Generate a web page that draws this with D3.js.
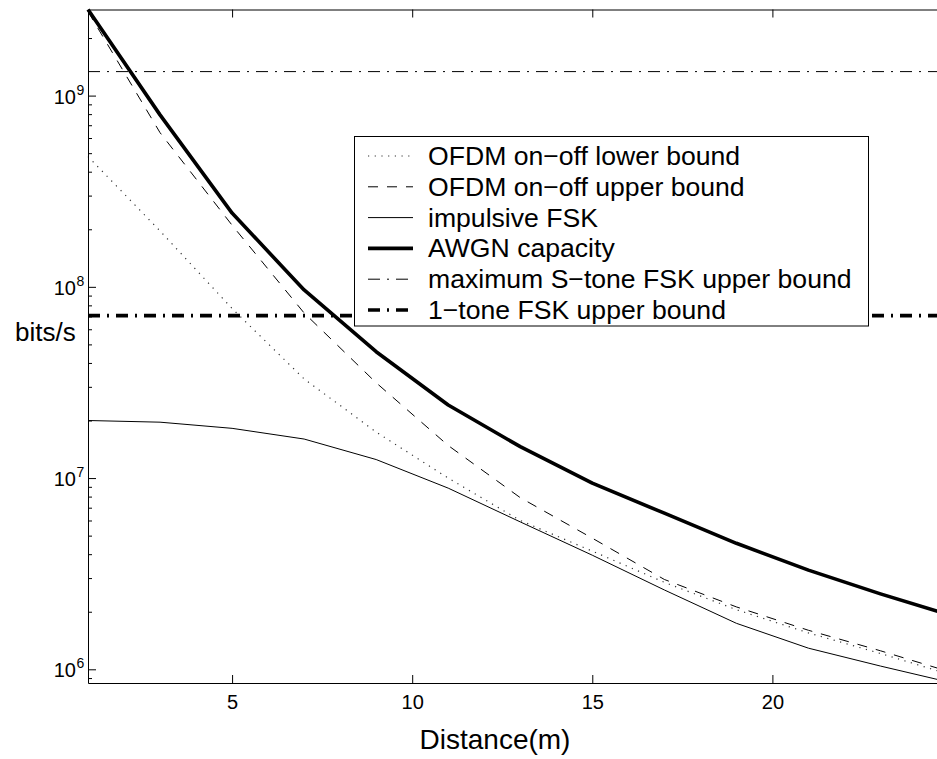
<!DOCTYPE html>
<html>
<head>
<meta charset="utf-8">
<script src="https://cdn.jsdelivr.net/npm/d3@7"></script>
<style>
  html, body { margin: 0; padding: 0; background: #fff; }
  svg { display: block; font-family: "Liberation Sans", Arial, Helvetica, sans-serif; }
</style>
</head>
<body>
<svg id="chart" width="937" height="759"></svg>
<script>
// ---- data ----
const distance   = [1, 3, 5, 7, 9, 11, 13, 15, 17, 19, 21, 23, 25];
const ofdmLower  = [4.8e8, 1.96e8, 7.7e7, 3.3e7, 1.74e7, 1.0e7, 6.0e6, 4.15e6, 2.85e6, 2.05e6, 1.55e6, 1.21e6, 9.3e5];
const ofdmUpper  = [2.75e9, 6.4e8, 2.1e8, 7.3e7, 3.15e7, 1.48e7, 7.9e6, 4.85e6, 2.95e6, 2.12e6, 1.6e6, 1.25e6, 9.6e5];
const impulsive  = [2.0e7, 1.96e7, 1.82e7, 1.6e7, 1.25e7, 8.86e6, 5.9e6, 3.95e6, 2.6e6, 1.74e6, 1.29e6, 1.04e6, 8.48e5];
const awgn       = [2.82e9, 7.93e8, 2.43e8, 9.63e7, 4.58e7, 2.41e7, 1.46e7, 9.4e6, 6.55e6, 4.56e6, 3.3e6, 2.48e6, 1.9e6];
const sToneBound = 1.335e9;   // maximum S-tone FSK upper bound (constant)
const oneToneBound = 7.07e7;  // 1-tone FSK upper bound (constant)

const legendLabels = [
  "OFDM on\u2212off lower bound",
  "OFDM on\u2212off upper bound",
  "impulsive FSK",
  "AWGN capacity",
  "maximum S\u2212tone FSK upper bound",
  "1\u2212tone FSK upper bound"
];
const xTickValues = [5, 10, 15, 20];
const yMajorExponents = [6, 7, 8, 9];
const xLabel = "Distance(m)";
const yLabel = "bits/s";

// ---- layout ----
const plot = { left: 88, right: 952.5, top: 9.5, bottom: 683 };
const svg = d3.select("#chart");

const allValues = [].concat(ofdmLower, ofdmUpper, impulsive, awgn, [sToneBound, oneToneBound]);
const x = d3.scaleLinear().domain(d3.extent(distance)).range([plot.left, plot.right]);
const y = d3.scaleLog().domain(d3.extent(allValues)).range([plot.bottom, plot.top]);

// series styles
const series = [
  { values: ofdmLower, width: 1.2, dash: "1.2,5.5", color: "#333" },
  { values: ofdmUpper, width: 1,   dash: "10,9",    color: "#000" },
  { values: impulsive, width: 1,   dash: null,      color: "#000" },
  { values: awgn,      width: 3.6, dash: null,      color: "#000" },
  { constant: sToneBound,   width: 1,   dash: "12,7,2,7", color: "#000" },
  { constant: oneToneBound, width: 3.6, dash: "12,7,2,7", color: "#000" }
];

const line = d3.line().x(d => x(d[0])).y(d => y(d[1]));

const gLines = svg.append("g");
series.forEach(s => {
  let pts;
  if (s.values) pts = distance.map((d, i) => [d, s.values[i]]);
  else pts = x.domain().map(d => [d, s.constant]);
  gLines.append("path")
    .attr("d", line(pts))
    .attr("fill", "none")
    .attr("stroke", s.color)
    .attr("stroke-width", s.width)
    .attr("stroke-dasharray", s.dash)
    .attr("stroke-linejoin", "round");
});

// ---- axes ----
const [yMin, yMax] = y.domain();
const minorTicks = [];
for (let e = Math.floor(Math.log10(yMin)); e <= Math.ceil(Math.log10(yMax)); e++) {
  for (let m = 2; m <= 9; m++) {
    const v = m * Math.pow(10, e);
    if (v >= yMin && v <= yMax) minorTicks.push(v);
  }
}
const majorTicks = yMajorExponents.map(e => Math.pow(10, e));

const axisStyle = g => {
  g.selectAll("path.domain").attr("stroke", "#000").attr("stroke-width", 1);
  g.selectAll(".tick line").attr("stroke", "#000").attr("stroke-width", 1);
};

// left axis: major
svg.append("g").attr("transform", `translate(${plot.left},0)`)
  .call(d3.axisLeft(y).tickValues(majorTicks).tickSizeInner(-8).tickSizeOuter(0).tickFormat(""))
  .call(axisStyle);
// left axis: minor
svg.append("g").attr("transform", `translate(${plot.left},0)`)
  .call(d3.axisLeft(y).tickValues(minorTicks).tickSizeInner(-4).tickSizeOuter(0).tickFormat(""))
  .call(g => g.select("path.domain").remove())
  .call(axisStyle);

// y tick labels with superscript exponents
const yLab = svg.append("g").attr("fill", "#000");
yMajorExponents.forEach(e => {
  const ty = y(Math.pow(10, e));
  yLab.append("text").attr("x", 76).attr("y", ty + 8)
    .attr("text-anchor", "end").attr("font-size", 20).text("10");
  yLab.append("text").attr("x", 76.5).attr("y", ty - 1)
    .attr("font-size", 14).text(String(e));
});

// bottom axis
svg.append("g").attr("transform", `translate(0,${plot.bottom})`)
  .call(d3.axisBottom(x).tickValues(xTickValues).tickSizeInner(-8).tickSizeOuter(0).tickPadding(12))
  .call(axisStyle)
  .call(g => g.selectAll(".tick text").attr("font-size", 20).attr("fill", "#000")
    .attr("font-family", "Liberation Sans, Arial, sans-serif"));

// top axis
svg.append("g").attr("transform", `translate(0,${plot.top})`)
  .call(d3.axisTop(x).tickValues(xTickValues).tickSizeInner(-8).tickSizeOuter(0).tickFormat(""))
  .call(axisStyle);

// axis labels
svg.append("text").attr("x", 495).attr("y", 749).attr("text-anchor", "middle")
  .attr("font-size", 28).text(xLabel);
svg.append("text").attr("x", 15).attr("y", 341).attr("font-size", 26).text(yLabel);

// ---- legend ----
const leg = svg.append("g");
leg.append("rect").attr("x", 354.5).attr("y", 136.5).attr("width", 514).attr("height", 189.5)
  .attr("fill", "#fff").attr("stroke", "#000").attr("stroke-width", 1);
legendLabels.forEach((lab, i) => {
  const s = series[i];
  const ly = 156 + i * 30.8;
  leg.append("line").attr("x1", 368).attr("x2", 413).attr("y1", ly).attr("y2", ly)
    .attr("stroke", s.color).attr("stroke-width", s.width).attr("stroke-dasharray", s.dash);
  leg.append("text").attr("x", 428).attr("y", ly + 9).attr("font-size", 26.6).text(lab);
});
</script>
</body>
</html>
